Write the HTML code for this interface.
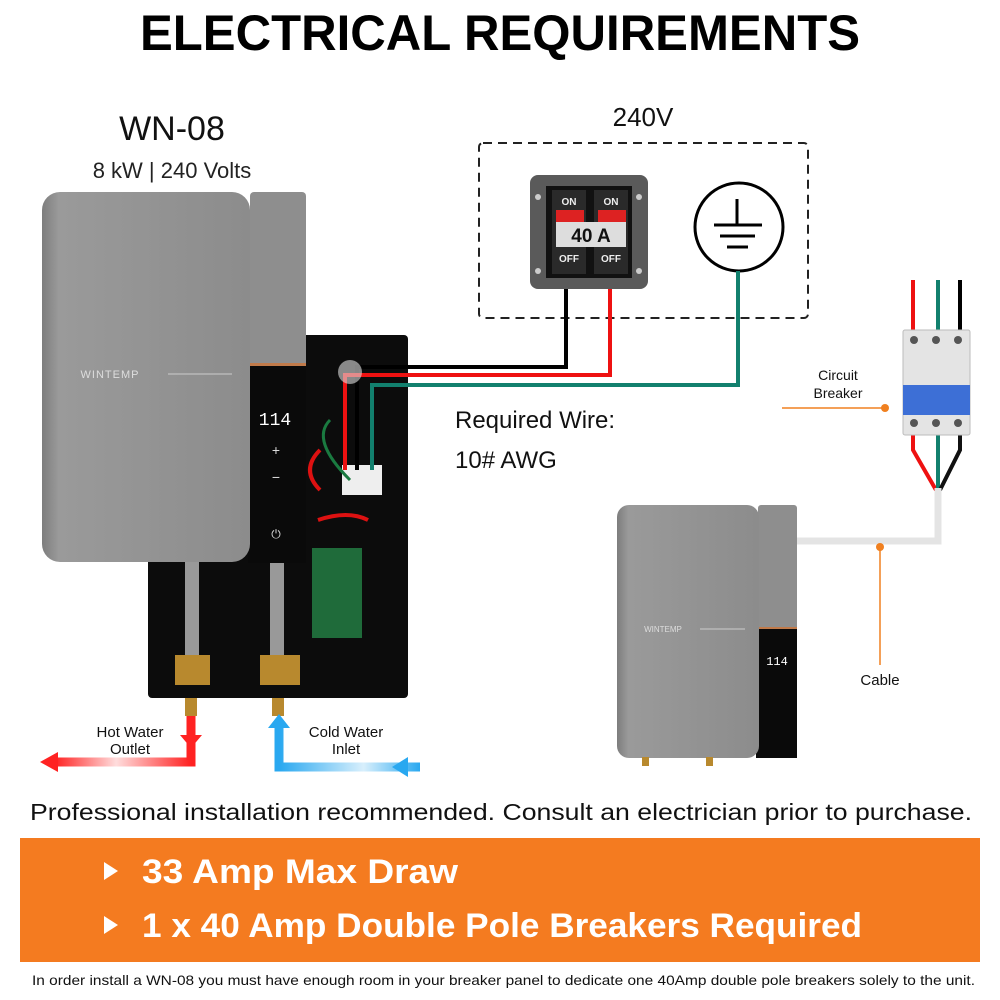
<!DOCTYPE html>
<html><head><meta charset="utf-8"><style>
html,body{margin:0;padding:0;background:#fff;}
svg{display:block;font-family:"Liberation Sans",sans-serif;}
</style></head><body>
<svg width="1000" height="1000" viewBox="0 0 1000 1000" xmlns="http://www.w3.org/2000/svg">
<defs>
<linearGradient id="hot" x1="0" x2="1"><stop offset="0" stop-color="#f22"/><stop offset="0.45" stop-color="#fdd"/><stop offset="1" stop-color="#f22"/></linearGradient>
<linearGradient id="cold" x1="0" x2="1"><stop offset="0" stop-color="#29a8f0"/><stop offset="0.6" stop-color="#d8effc"/><stop offset="1" stop-color="#29a8f0"/></linearGradient>
<linearGradient id="gray" x1="0" x2="1"><stop offset="0" stop-color="#7d7d7d"/><stop offset="0.08" stop-color="#9a9a9a"/><stop offset="1" stop-color="#8c8c8c"/></linearGradient>
</defs>
<text x="140" y="50" textLength="720" lengthAdjust="spacingAndGlyphs" font-size="50" font-weight="bold" fill="#000">ELECTRICAL REQUIREMENTS</text>
<text x="172" y="140" text-anchor="middle" font-size="34" fill="#111">WN-08</text>
<text x="172" y="178" text-anchor="middle" font-size="22" fill="#222">8 kW | 240 Volts</text>
<text x="643" y="126" text-anchor="middle" font-size="26" fill="#111">240V</text>
<rect x="479" y="143" width="329" height="175" rx="4" fill="none" stroke="#222" stroke-width="2" stroke-dasharray="9,6"/>
<rect x="530" y="175" width="118" height="114" rx="8" fill="#5a5a5a"/>
<rect x="546" y="186" width="86" height="92" fill="#111"/>
<rect x="552" y="190" width="34" height="84" fill="#2a2a2a"/><rect x="594" y="190" width="34" height="84" fill="#2a2a2a"/>
<rect x="556" y="210" width="28" height="14" fill="#d22"/><rect x="598" y="210" width="28" height="14" fill="#d22"/>
<rect x="556" y="222" width="70" height="25" fill="#ddd"/>
<text x="591" y="242" text-anchor="middle" font-size="19" font-weight="bold" fill="#111">40 A</text>
<text x="569" y="205" text-anchor="middle" font-size="10" font-weight="bold" fill="#eee">ON</text>
<text x="611" y="205" text-anchor="middle" font-size="10" font-weight="bold" fill="#eee">ON</text>
<text x="569" y="262" text-anchor="middle" font-size="10" font-weight="bold" fill="#eee">OFF</text>
<text x="611" y="262" text-anchor="middle" font-size="10" font-weight="bold" fill="#eee">OFF</text>
<circle cx="538" cy="197" r="3" fill="#ccc"/><circle cx="639" cy="197" r="3" fill="#ccc"/><circle cx="538" cy="271" r="3" fill="#ccc"/><circle cx="639" cy="271" r="3" fill="#ccc"/>
<circle cx="739" cy="227" r="44" fill="#fff" stroke="#000" stroke-width="3"/>
<path d="M737 199V224M714 225H762M720 236H755M727 247H748" stroke="#000" stroke-width="3"/>
<rect x="148" y="335" width="260" height="363" rx="4" fill="#0c0c0c"/>
<rect x="185" y="560" width="14" height="110" fill="#999"/><rect x="270" y="560" width="14" height="110" fill="#999"/>
<rect x="175" y="655" width="35" height="30" fill="#b8892e"/><rect x="260" y="655" width="40" height="30" fill="#b8892e"/>
<rect x="185" y="698" width="12" height="18" fill="#b8892e"/><rect x="272" y="698" width="12" height="18" fill="#b8892e"/>
<rect x="312" y="548" width="50" height="90" fill="#1f6b3a"/>
<rect x="342" y="465" width="40" height="30" fill="#eee"/>
<path d="M320 450q-20 20 0 40M318 520q30-10 50 0" stroke="#d11" stroke-width="4" fill="none"/>
<path d="M330 420q-20 20 20 60" stroke="#1a7a40" stroke-width="3" fill="none"/>
<rect x="250" y="192" width="56" height="175" rx="4" fill="#8e8e8e"/>
<rect x="248" y="365" width="58" height="198" fill="#0a0a0a"/>
<rect x="248" y="363" width="58" height="3" fill="#c07a4a"/>
<text x="275" y="425" text-anchor="middle" font-size="18" fill="#fff" font-family="Liberation Mono">114</text>
<text x="276" y="455" text-anchor="middle" font-size="14" fill="#ddd">+</text>
<text x="276" y="482" text-anchor="middle" font-size="14" fill="#ddd">−</text>
<text x="276" y="538" text-anchor="middle" font-size="12" fill="#ddd">⏻</text>
<rect x="42" y="192" width="208" height="370" rx="18" fill="url(#gray)"/>
<text x="110" y="378" text-anchor="middle" font-size="11" fill="#ddd" letter-spacing="1">WINTEMP</text>
<line x1="168" y1="374" x2="232" y2="374" stroke="#ccc" stroke-width="1"/>
<path d="M566 289V367H357V470" stroke="#000" stroke-width="4" fill="none"/>
<path d="M610 289V375H345V470" stroke="#e11" stroke-width="4" fill="none"/>
<path d="M738 271V385H372V470" stroke="#12806e" stroke-width="4" fill="none"/>
<circle cx="350" cy="372" r="12" fill="#ddd" opacity="0.6"/>
<path d="M191 716V762H55" stroke="url(#hot)" stroke-width="9" fill="none"/>
<path d="M191 716V760" stroke="#f22" stroke-width="9"/>
<polygon points="40,762 58,752 58,772" fill="#f22"/>
<polygon points="180,735 202,735 191,748" fill="#f22"/>
<path d="M420 767H279V725" stroke="url(#cold)" stroke-width="9" fill="none"/>
<polygon points="268,728 290,728 279,714" fill="#29a8f0"/>
<polygon points="392,767 408,757 408,777" fill="#29a8f0"/>
<text x="130" y="737" text-anchor="middle" font-size="15" fill="#111">Hot Water</text>
<text x="130" y="754" text-anchor="middle" font-size="15" fill="#111">Outlet</text>
<text x="346" y="737" text-anchor="middle" font-size="15" fill="#111">Cold Water</text>
<text x="346" y="754" text-anchor="middle" font-size="15" fill="#111">Inlet</text>
<text x="455" y="428" font-size="24" fill="#111">Required Wire:</text>
<text x="455" y="468" font-size="24" fill="#111">10# AWG</text>
<path d="M913 280V330" stroke="#e11" stroke-width="4"/><path d="M938 280V330" stroke="#12806e" stroke-width="4"/><path d="M960 280V330" stroke="#000" stroke-width="4"/>
<path d="M913 430V450L936 490" stroke="#e11" stroke-width="4" fill="none"/>
<path d="M938 430V490" stroke="#12806e" stroke-width="4"/><path d="M960 430V450L940 490" stroke="#111" stroke-width="4" fill="none"/>
<rect x="903" y="330" width="67" height="105" rx="2" fill="#e4e4e4" stroke="#bbb"/>
<rect x="903" y="385" width="67" height="30" fill="#3d6fd6"/>
<circle cx="914" cy="340" r="4" fill="#555"/><circle cx="936" cy="340" r="4" fill="#555"/><circle cx="958" cy="340" r="4" fill="#555"/>
<circle cx="914" cy="423" r="4" fill="#555"/><circle cx="936" cy="423" r="4" fill="#555"/><circle cx="958" cy="423" r="4" fill="#555"/>
<text x="838" y="380" text-anchor="middle" font-size="14" fill="#111">Circuit</text>
<text x="838" y="398" text-anchor="middle" font-size="14" fill="#111">Breaker</text>
<line x1="782" y1="408" x2="885" y2="408" stroke="#f08020" stroke-width="1.5"/><circle cx="885" cy="408" r="4" fill="#f08020"/>
<path d="M796 541H938V488" stroke="#e4e4e4" stroke-width="7" fill="none"/>
<line x1="880" y1="547" x2="880" y2="665" stroke="#f08020" stroke-width="1.5"/><circle cx="880" cy="547" r="4" fill="#f08020"/>
<text x="880" y="685" text-anchor="middle" font-size="15" fill="#111">Cable</text>
<rect x="758" y="505" width="39" height="130" rx="3" fill="#8e8e8e"/>
<rect x="756" y="628" width="41" height="130" fill="#0a0a0a"/>
<rect x="756" y="627" width="41" height="2" fill="#c07a4a"/>
<text x="777" y="665" text-anchor="middle" font-size="12" fill="#fff" font-family="Liberation Mono">114</text>
<rect x="617" y="505" width="142" height="253" rx="12" fill="url(#gray)"/>
<text x="663" y="632" text-anchor="middle" font-size="8" fill="#ddd">WINTEMP</text>
<line x1="700" y1="629" x2="745" y2="629" stroke="#ccc"/>
<rect x="642" y="757" width="7" height="9" fill="#b8892e"/><rect x="706" y="757" width="7" height="9" fill="#b8892e"/>
<text x="30" y="820" textLength="942" lengthAdjust="spacingAndGlyphs" font-size="23" fill="#111">Professional installation recommended. Consult an electrician prior to purchase.</text>
<rect x="20" y="838" width="960" height="124" fill="#f47b20"/>
<polygon points="104,862 104,880 118,871" fill="#fff"/>
<polygon points="104,916 104,934 118,925" fill="#fff"/>
<text x="142" y="883" textLength="316" lengthAdjust="spacingAndGlyphs" font-size="34" font-weight="bold" fill="#fff">33 Amp Max Draw</text>
<text x="142" y="937" textLength="720" lengthAdjust="spacingAndGlyphs" font-size="34" font-weight="bold" fill="#fff">1 x 40 Amp Double Pole Breakers Required</text>
<text x="32" y="985" textLength="943" lengthAdjust="spacingAndGlyphs" font-size="14" fill="#111">In order install a WN-08 you must have enough room in your breaker panel to dedicate one 40Amp double pole breakers solely to the unit.</text>
</svg>
</body></html>
